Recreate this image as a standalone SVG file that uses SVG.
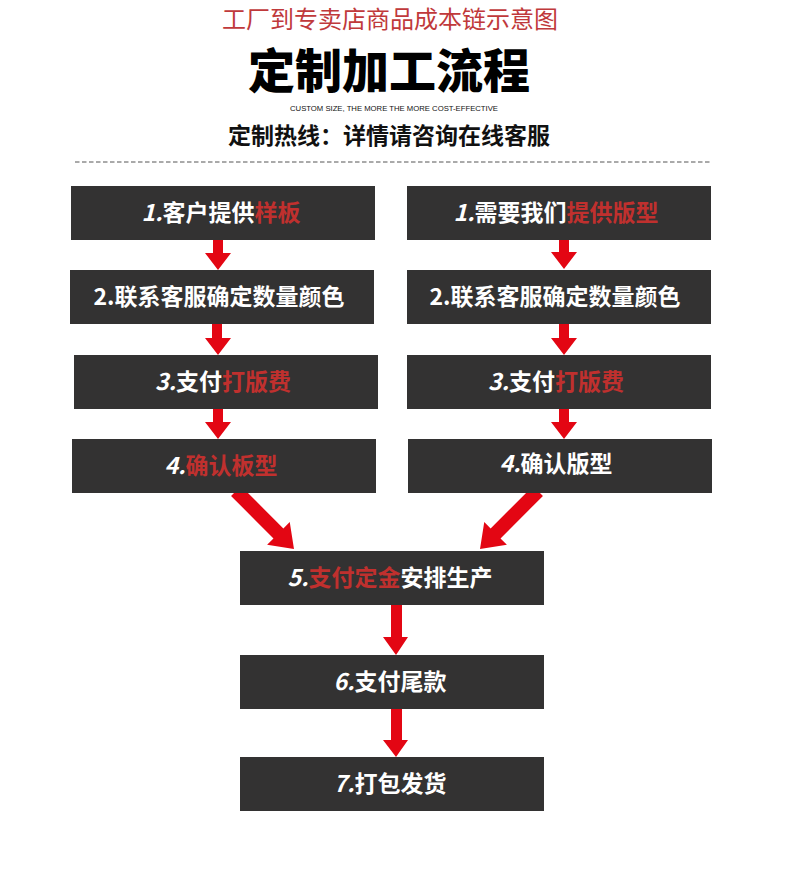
<svg xmlns="http://www.w3.org/2000/svg" width="790" height="890" viewBox="0 0 790 890">
<style>
.cjk{font-family:"Noto Sans CJK SC","Noto Sans",sans-serif;}
.box{fill:#333232;}
.lbl{font-family:"Noto Sans CJK SC","Noto Sans",sans-serif;font-size:23px;font-weight:bold;fill:#ffffff;text-anchor:middle;}
.red{fill:#c0302e;}
.num{font-style:italic;}
.arr{fill:#e30613;}
</style>
<rect x="0" y="0" width="790" height="890" fill="#ffffff"/>
<g id="header">
<text x="390" y="28" class="cjk" font-size="24" fill="#c0393b" text-anchor="middle">工厂到专卖店商品成本链示意图</text>
<text x="389" y="88" class="cjk" font-size="47" font-weight="900" fill="#000000" text-anchor="middle">定制加工流程</text>
<text x="394" y="111" font-family="Liberation Sans, Arial, sans-serif" font-size="7.5" fill="#111111" text-anchor="middle" textLength="208" lengthAdjust="spacingAndGlyphs">CUSTOM SIZE, THE MORE THE MORE COST-EFFECTIVE</text>
<text x="389" y="144" class="cjk" font-size="23" font-weight="bold" fill="#111111" text-anchor="middle">定制热线：详情请咨询在线客服</text>
<line x1="75" y1="162" x2="712" y2="162" stroke="#555555" stroke-width="1" stroke-dasharray="4.5 2.5"/>
</g>
<g id="connectors">
<path class="arr" d="M213,240 H223 V253 H231 L218,270 L205,253 H213 Z"/>
<path class="arr" d="M212,324 H222 V338 H231 L218,355 L205,338 H212 Z"/>
<path class="arr" d="M213,409 H223 V422 H231 L218,439 L205,422 H213 Z"/>
<path class="arr" d="M559,240 H569 V252 H577 L564,269 L551,252 H559 Z"/>
<path class="arr" d="M559,324 H569 V338 H577 L564,355 L551,338 H559 Z"/>
<path class="arr" d="M559,409 H569 V422 H577 L564,439 L551,422 H559 Z"/>
<path class="arr" d="M391,605 H402 V637 H408 L396,655 L383,637 H391 Z"/>
<path class="arr" d="M391,709 H402 V740 H408 L396,757 L383,740 H391 Z"/>
<path class="arr" transform="translate(236,491) rotate(-45)" d="M-7,0 H7 V60 H16 L0,82 L-16,60 H-7 Z"/>
<path class="arr" transform="translate(538,491) rotate(45)" d="M-7,0 H7 V60 H16 L0,82 L-16,60 H-7 Z"/>
</g>
<g id="L1"><rect class="box" x="71" y="186" width="304" height="54"/><text class="lbl" x="221" y="221"><tspan class="num">1.</tspan>客户提供<tspan class="red">样板</tspan></text></g>
<g id="L2"><rect class="box" x="70" y="270" width="304" height="54"/><text class="lbl" x="219" y="305">2.联系客服确定数量颜色</text></g>
<g id="L3"><rect class="box" x="74" y="355" width="304" height="54"/><text class="lbl" x="223" y="390"><tspan class="num">3.</tspan>支付<tspan class="red">打版费</tspan></text></g>
<g id="L4"><rect class="box" x="72" y="439" width="304" height="54"/><text class="lbl" x="221" y="474"><tspan class="num">4.</tspan><tspan class="red">确认板型</tspan></text></g>
<g id="R1"><rect class="box" x="407" y="186" width="304" height="54"/><text class="lbl" x="556" y="221"><tspan class="num">1.</tspan>需要我们<tspan class="red">提供版型</tspan></text></g>
<g id="R2"><rect class="box" x="407" y="270" width="304" height="54"/><text class="lbl" x="555" y="305">2.联系客服确定数量颜色</text></g>
<g id="R3"><rect class="box" x="407" y="355" width="304" height="54"/><text class="lbl" x="556" y="390"><tspan class="num">3.</tspan>支付<tspan class="red">打版费</tspan></text></g>
<g id="R4"><rect class="box" x="408" y="439" width="304" height="54"/><text class="lbl" x="556" y="472"><tspan class="num">4.</tspan>确认版型</text></g>
<g id="N5"><rect class="box" x="240" y="551" width="304" height="54"/><text class="lbl" x="390" y="586"><tspan class="num">5.</tspan><tspan class="red">支付定金</tspan>安排生产</text></g>
<g id="N6"><rect class="box" x="240" y="655" width="304" height="54"/><text class="lbl" x="390" y="690"><tspan class="num">6.</tspan>支付尾款</text></g>
<g id="N7"><rect class="box" x="240" y="757" width="304" height="54"/><text class="lbl" x="390" y="792"><tspan class="num">7.</tspan>打包发货</text></g>
</svg>
